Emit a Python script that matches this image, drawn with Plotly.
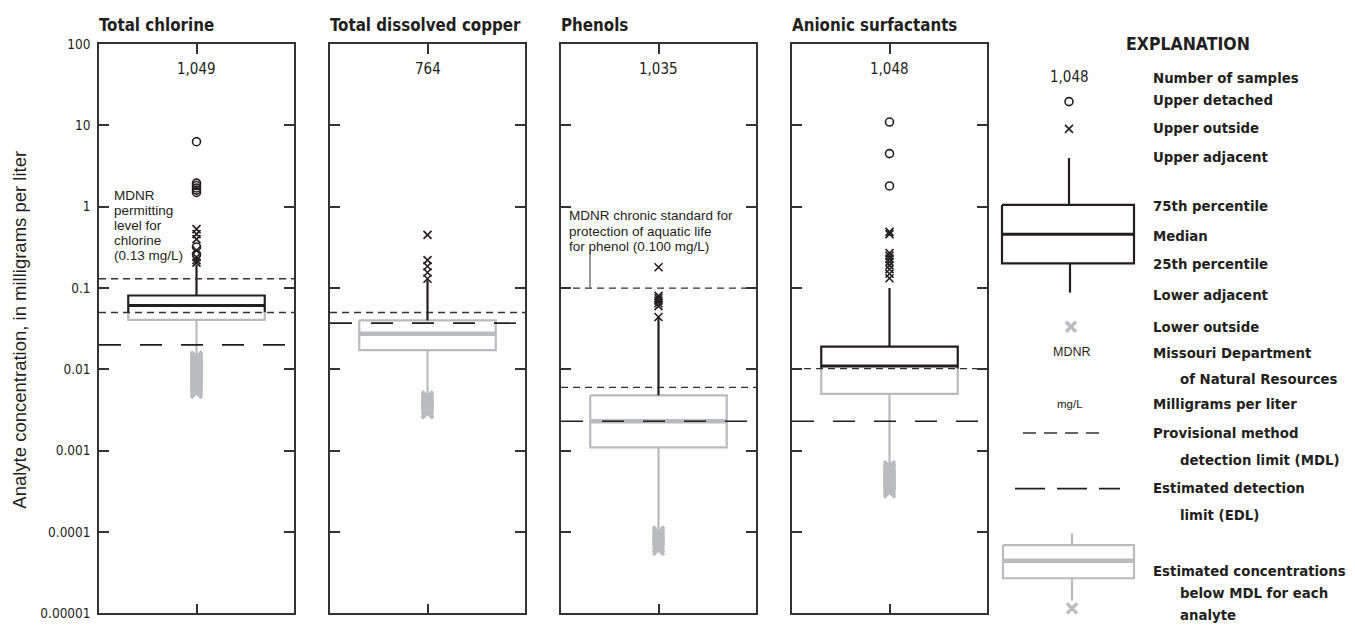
import plotly.graph_objects as go

W, H = 1355, 634

# ---- data ---------------------------------------------------------------
analytes = ["Total chlorine", "Total dissolved copper", "Phenols", "Anionic surfactants"]
sample_counts = [1049, 764, 1035, 1048]

q75 = [0.081, 0.040, 0.0048, 0.019]
median = [0.061, 0.0275, 0.0023, 0.011]
q25 = [0.0405, 0.0172, 0.0011, 0.0050]
upper_adjacent = [0.195, 0.125, 0.044, 0.10]
lower_adjacent = [0.0146, 0.0048, 0.00011, 0.00063]

mdl = [0.05, 0.05, 0.006, 0.0102]          # provisional method detection limit
edl = [0.02, 0.037, 0.0023, 0.0023]        # estimated detection limit
mdnr_level = [0.13, None, 0.100, None]     # MDNR permitting level / chronic standard

upper_detached = [
    [6.3, 1.95, 1.82, 1.70, 1.60, 1.50, 0.32, 0.26],
    [],
    [],
    [11.0, 4.5, 1.8],
]
upper_outside = [
    [0.53, 0.46, 0.40, 0.29, 0.24, 0.22, 0.205],
    [0.45, 0.22, 0.185, 0.155, 0.13],
    [0.18, 0.08, 0.075, 0.07, 0.065, 0.06, 0.044],
    [0.49, 0.46, 0.27, 0.25, 0.23, 0.21, 0.19, 0.17, 0.15, 0.132],
]
lower_outside = [
    [0.0142, 0.0137, 0.0132, 0.0127, 0.0122, 0.0117, 0.0112, 0.0107, 0.0102,
     0.0098, 0.0094, 0.0090, 0.0086, 0.0082, 0.0078, 0.0074, 0.0070, 0.0067,
     0.0064, 0.0061, 0.0058, 0.0055, 0.0052],
    [0.0046, 0.0044, 0.0042, 0.0040, 0.0038, 0.0036, 0.0034, 0.0032, 0.0030, 0.0029],
    [0.000100, 0.000095, 0.000090, 0.000085, 0.000080, 0.000072, 0.000066, 0.000061],
    [0.00064, 0.00060, 0.00057, 0.00054, 0.00051, 0.00049, 0.00047, 0.00045,
     0.00043, 0.00041, 0.00039, 0.00037, 0.00035, 0.00033, 0.00031],
]

y_tick_values = [1e-5, 1e-4, 1e-3, 1e-2, 1e-1, 1, 10, 100]
y_tick_labels = ["0.00001", "0.0001", "0.001", "0.01", "0.1", "1", "10", "100"]

# ---- styling ------------------------------------------------------------
BLACK = "#231f20"
GRAY = "#b9bbbe"
NARROW = "DejaVu Sans Condensed, Liberation Sans Narrow, Arial Narrow, sans-serif"
SANS = "Liberation Sans, Arial, Helvetica, sans-serif"

panel_left = [99, 330, 561, 792]
panel_width = 195
plot_top, plot_bottom = 37, 621
half_w = 0.35  # box half width in panel x units (range -0.5..0.5)


def px(x):
    return x / W


def py(y):
    return 1 - y / H


fig = go.Figure()
annotations = []
shapes = []


def text(x, y, s, size, family=NARROW, bold=False, anchor="left", color=BLACK, angle=0):
    annotations.append(dict(
        x=px(x), y=py(y), xref="paper", yref="paper", text=s, showarrow=False,
        xanchor=anchor, yanchor="middle", textangle=angle,
        font=dict(family=family, size=size, color=color, weight=700 if bold else 400),
    ))


def seg(xs, ys, color, width, xa, ya, dash="solid"):
    fig.add_trace(go.Scatter(
        x=xs, y=ys, mode="lines", xaxis=xa, yaxis=ya, hoverinfo="skip",
        line=dict(color=color, width=width, dash=dash), showlegend=False,
    ))


def marks(xs, ys, symbol, size, color, lw, xa, ya):
    fig.add_trace(go.Scatter(
        x=xs, y=ys, mode="markers", xaxis=xa, yaxis=ya, hoverinfo="skip",
        marker=dict(symbol=symbol, size=size, color=color,
                    line=dict(color=color, width=lw)),
        showlegend=False,
    ))


layout_axes = {}
for i in range(4):
    n = i + 1
    xa, ya = f"x{n}", f"y{n}"
    xkey = "xaxis" if n == 1 else f"xaxis{n}"
    ykey = "yaxis" if n == 1 else f"yaxis{n}"
    left = panel_left[i]
    layout_axes[xkey] = dict(
        domain=[px(left), px(left + panel_width)], range=[-0.5, 0.5], anchor=ya,
        showgrid=False, zeroline=False, showline=True, linecolor="#333333", linewidth=1.5,
        mirror="ticks", ticks="inside", ticklen=10, tickwidth=1.5, tickcolor="#333333",
        tickvals=[0], showticklabels=False, fixedrange=True,
    )
    layout_axes[ykey] = dict(
        domain=[py(plot_bottom), py(plot_top)], type="log", range=[-5, 2], anchor=xa,
        showgrid=False, zeroline=False, showline=True, linecolor="#333333", linewidth=1.5,
        mirror="ticks", ticks="inside", ticklen=10, tickwidth=1.5, tickcolor="#333333",
        tickvals=y_tick_values, ticktext=y_tick_labels, showticklabels=(i == 0),
        ticklabelstandoff=4,
        tickfont=dict(family=NARROW, size=13.5, color=BLACK), fixedrange=True,
    )

    lo_black = max(q25[i], mdl[i])
    # part of the box above the MDL
    if q75[i] > mdl[i]:
        seg([-half_w, -half_w, half_w, half_w], [lo_black, q75[i], q75[i], lo_black],
            BLACK, 2.2, xa, ya)
    # part of the box below the MDL (estimated concentrations)
    hi_gray = min(q75[i], mdl[i])
    if q75[i] <= mdl[i]:
        seg([-half_w, -half_w, half_w, half_w, -half_w],
            [hi_gray, q25[i], q25[i], hi_gray, hi_gray], GRAY, 2.2, xa, ya)
    else:
        seg([-half_w, -half_w, half_w, half_w], [hi_gray, q25[i], q25[i], hi_gray],
            GRAY, 2.2, xa, ya)
    # whiskers
    seg([0, 0], [q75[i], upper_adjacent[i]], BLACK, 2.2, xa, ya)
    seg([0, 0], [q25[i], lower_adjacent[i]], GRAY, 2.2, xa, ya)
    # median
    if median[i] > mdl[i]:
        seg([-half_w, half_w], [median[i], median[i]], BLACK, 3, xa, ya)
    else:
        seg([-half_w, half_w], [median[i], median[i]], GRAY, 4.5, xa, ya)

    # reference levels
    seg([-0.5, 0.5], [mdl[i], mdl[i]], "#333333", 1.3, xa, ya, dash="7px,5px")
    seg([-0.5, 0.5], [edl[i], edl[i]], BLACK, 1.6, xa, ya, dash="22px,19px")
    if mdnr_level[i] is not None:
        seg([-0.5, 0.5], [mdnr_level[i], mdnr_level[i]], "#333333", 1.3, xa, ya,
            dash="7px,5px")

    # outliers
    if lower_outside[i]:
        marks([0] * len(lower_outside[i]), lower_outside[i], "x-thin-open", 11, GRAY, 3.4, xa, ya)
    if upper_outside[i]:
        marks([0] * len(upper_outside[i]), upper_outside[i], "x-thin-open", 8, BLACK, 1.6, xa, ya)
    if upper_detached[i]:
        marks([0] * len(upper_detached[i]), upper_detached[i], "circle-open", 8, BLACK, 1.6, xa, ya)

    # panel title and sample count
    text(left - 2, 17, analytes[i], 16.8, bold=True)
    text(left + panel_width / 2, 63, f"{sample_counts[i]:,}", 15, anchor="center")

# annotation for chlorine permitting level
for k, line in enumerate(["MDNR", "permitting", "level for", "chlorine", "(0.13 mg/L)"]):
    text(112, 192 + k * 15.6, line, 13.5, family=SANS)

# annotation for phenol standard with leader line
for k, line in enumerate(["MDNR chronic standard for", "protection of aquatic life",
                          "for phenol (0.100 mg/L)"]):
    text(567, 213 + k * 15.8, line, 13.5, family=SANS)

# y-axis title
text(20, 330, "Analyte concentration, in milligrams per liter", 18.5, family=SANS,
     anchor="center", angle=-90)

# ---- explanation (legend) drawn on a pixel-based overlay axis -----------
layout_axes["xaxis5"] = dict(domain=[0, 1], range=[0, W], visible=False, anchor="y5",
                             fixedrange=True)
layout_axes["yaxis5"] = dict(domain=[0, 1], range=[H, 0], visible=False, anchor="x5",
                             fixedrange=True)
L = ("x5", "y5")

marks([1069], [96], "circle-open", 8, BLACK, 1.6, *L)
marks([1069], [124], "x-thin-open", 8, BLACK, 1.6, *L)
seg([1069, 1069], [154, 202], BLACK, 2.2, *L)
seg([1002, 1134, 1134, 1002, 1002], [202, 202, 262, 262, 202], BLACK, 2.2, *L)
seg([1002, 1134], [232, 232], BLACK, 3, *L)
seg([1070, 1070], [262, 292], BLACK, 2.2, *L)
marks([1071], [327], "x-thin-open", 10, GRAY, 3.2, *L)
seg([1023, 1102], [436, 436], "#333333", 1.3, *L, dash="13px,8px")
seg([1015, 1120], [493, 493], BLACK, 1.8, *L, dash="30px,12px")
seg([1072, 1072], [539, 551], GRAY, 2.2, *L)
seg([1003, 1134, 1134, 1003, 1003], [551, 551, 585, 585, 551], GRAY, 2.2, *L)
seg([1003, 1134], [567, 567], GRAY, 4.5, *L)
seg([1072, 1072], [585, 608], GRAY, 2.2, *L)
marks([1072], [616], "x-thin-open", 10, GRAY, 3.2, *L)

text(1188, 37, "EXPLANATION", 17.5, bold=True, anchor="center")
text(1069, 71, f"{1048:,}", 15, anchor="center")
text(1072, 353, "MDNR", 12.5, family=SANS, anchor="center")
text(1070, 406, "mg/L", 11.5, family=SANS, anchor="center")

legend_rows = [
    (1151, 71, "Number of samples"),
    (1151, 94, "Upper detached"),
    (1151, 123, "Upper outside"),
    (1151, 152, "Upper adjacent"),
    (1151, 203, "75th percentile"),
    (1151, 233, "Median"),
    (1151, 262, "25th percentile"),
    (1151, 294, "Lower adjacent"),
    (1151, 327, "Lower outside"),
    (1151, 353, "Missouri Department"),
    (1178, 380, "of Natural Resources"),
    (1151, 406, "Milligrams per liter"),
    (1151, 436, "Provisional method"),
    (1178, 463, "detection limit (MDL)"),
    (1151, 492, "Estimated detection"),
    (1178, 520, "limit (EDL)"),
    (1151, 577, "Estimated concentrations"),
    (1178, 600, "below MDL for each"),
    (1178, 622, "analyte"),
]
for x, y, s in legend_rows:
    text(x, y, s, 14.8, bold=True)

# leader line from phenol note to its standard line
shapes.append(dict(type="line", xref="paper", yref="paper", x0=px(590), x1=px(590),
                   y0=py(250), y1=py(287), line=dict(color="#555555", width=1.2)))

fig.update_layout(
    width=W, height=H, autosize=False,
    margin=dict(l=0, r=0, t=0, b=0, pad=0),
    paper_bgcolor="white", plot_bgcolor="rgba(0,0,0,0)",
    showlegend=False, annotations=annotations, shapes=shapes,
    **layout_axes,
)

fig.write_html("out.html")
